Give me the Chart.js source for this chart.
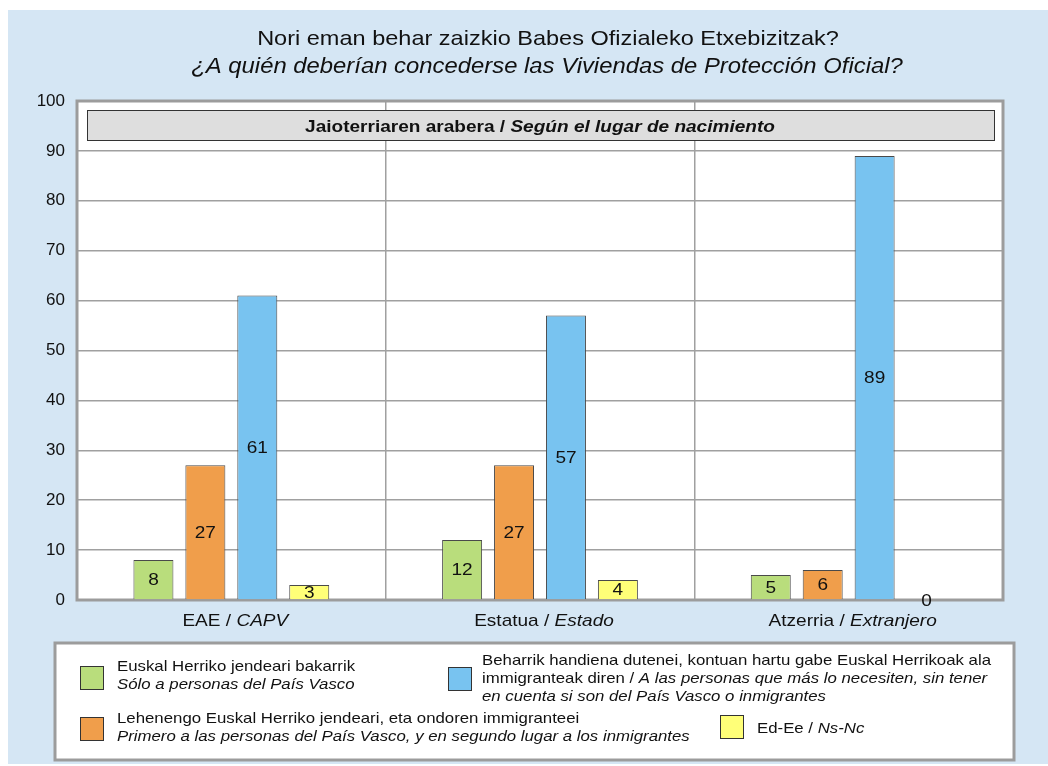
<!DOCTYPE html>
<html>
<head>
<meta charset="utf-8">
<script src="https://cdn.jsdelivr.net/npm/chart.js@4"></script>
<style>
  body { margin: 0; background: #fff; }
  #wrap { position: absolute; left: 8px; top: 10px; width: 1040px; height: 754px; }
</style>
</head>
<body>
<div id="wrap"><canvas id="chart" width="1040" height="754"></canvas></div>
<script>
// Datos
const categoriesEu = ["EAE", "Estatua", "Atzerria"];
const categoriesEs = ["CAPV", "Estado", "Extranjero"];
const onlyBasque = [8, 12, 5];
const basqueFirst = [27, 27, 6];
const mostNeed = [61, 57, 89];
const dontKnow = [3, 4, 0];
const yMin = 0;
const yMax = 100;
const yStep = 10;

const titleEu = "Nori eman behar zaizkio Babes Ofizialeko Etxebizitzak?";
const titleEs = "¿A quién deberían concederse las Viviendas de Protección Oficial?";
const headerEu = "Jaioterriaren arabera / ";
const headerEs = "Según el lugar de nacimiento";

// legend text: each line is a list of [text, italic]
const legendOnlyBasque = [
  [["Euskal Herriko jendeari bakarrik", false]],
  [["Sólo a personas del País Vasco", true]],
];
const legendBasqueFirst = [
  [["Lehenengo Euskal Herriko jendeari, eta ondoren immigranteei", false]],
  [["Primero a las personas del País Vasco, y en segundo lugar a los inmigrantes", true]],
];
const legendMostNeed = [
  [["Beharrik handiena dutenei, kontuan hartu gabe Euskal Herrikoak ala", false]],
  [["immigranteak diren / ", false], ["A las personas que más lo necesiten, sin tener", true]],
  [["en cuenta si son del País Vasco o inmigrantes", true]],
];
const legendDontKnow = [
  [["Ed-Ee / ", false], ["Ns-Nc", true]],
];

const colGreen = "#b9dd7c";
const colOrange = "#f09e4b";
const colBlue = "#78c3f0";
const colYellow = "#ffff78";
const FONT = "'Liberation Sans', Arial, sans-serif";
const STRETCH = 1.12; // el original esta algo ensanchado

// dibuja texto con partes en cursiva
function drawRuns(ctx, runs, x, y, size, align, bold) {
  const w = bold ? "bold " : "";
  let total = 0;
  runs.forEach(([t, it]) => {
    ctx.font = (it ? "italic " : "") + w + size + "px " + FONT;
    total += ctx.measureText(t).width;
  });
  total *= STRETCH;
  let cx = align === "center" ? x - total / 2 : x;
  ctx.save();
  ctx.translate(cx, y);
  ctx.scale(STRETCH, 1);
  ctx.textAlign = "left";
  ctx.textBaseline = "middle";
  let px = 0;
  runs.forEach(([t, it]) => {
    ctx.font = (it ? "italic " : "") + w + size + "px " + FONT;
    ctx.fillText(t, px, 0);
    px += ctx.measureText(t).width;
  });
  ctx.restore();
}

const decor = {
  id: "decor",
  beforeDraw(chart) {
    const { ctx, chartArea: a } = chart;
    ctx.save();
    ctx.fillStyle = "#d5e6f4";
    ctx.fillRect(0, 0, chart.width, chart.height);
    ctx.fillStyle = "#ffffff";
    ctx.fillRect(a.left, a.top, a.right - a.left, a.bottom - a.top);
    ctx.restore();
  },
  beforeDatasetsDraw(chart) {
    const { ctx, chartArea: a } = chart;
    ctx.save();
    // marco
    ctx.strokeStyle = "#9c9c9c";
    ctx.lineWidth = 3;
    ctx.strokeRect(a.left, a.top, a.right - a.left, a.bottom - a.top);
    // caja de cabecera
    const bx = a.left + 10, by = a.top + 9, bw = a.right - a.left - 19, bh = 30;
    ctx.fillStyle = "#dedede";
    ctx.fillRect(bx, by, bw, bh);
    ctx.strokeStyle = "#333";
    ctx.lineWidth = 1;
    ctx.strokeRect(bx + 0.5, by + 0.5, bw, bh);
    ctx.fillStyle = "#111";
    drawRuns(ctx, [[headerEu, false], [headerEs, true]], (a.left + a.right) / 2, by + bh / 2 + 2, 17, "center", true);
    ctx.restore();
  },
  afterDatasetsDraw(chart) {
    const { ctx } = chart;
    ctx.save();
    ctx.fillStyle = "#111";
    chart.data.datasets.forEach((ds, i) => {
      chart.getDatasetMeta(i).data.forEach((bar, j) => {
        const p = bar.getProps(["x", "y", "base"], true);
        drawRuns(ctx, [[String(ds.data[j]), false]], p.x, (p.y + p.base) / 2 + 1, 17, "center");
      });
    });
    ctx.restore();
  },
  afterDraw(chart) {
    const { ctx } = chart;
    const xs = chart.scales.x;
    ctx.save();
    ctx.fillStyle = "#111";
    // titulo
    drawRuns(ctx, [[titleEu, false]], 540, 29, 21, "center");
    drawRuns(ctx, [[titleEs, true]], 539, 57, 21.3, "center");
    // etiquetas de categoria
    categoriesEu.forEach((c, i) => {
      drawRuns(ctx, [[c + " / ", false], [categoriesEs[i], true]], xs.getPixelForValue(i) + 4, 611, 17, "center");
    });
    // leyenda
    ctx.fillStyle = "#ffffff";
    ctx.fillRect(47, 633, 959, 117);
    ctx.strokeStyle = "#9c9c9c";
    ctx.lineWidth = 3;
    ctx.strokeRect(47, 633, 959, 117);
    const items = [
      [colGreen, legendOnlyBasque, 72, 656, 109, 657],
      [colBlue, legendMostNeed, 440, 657, 474, 651],
      [colOrange, legendBasqueFirst, 72, 707, 109, 709],
      [colYellow, legendDontKnow, 712, 705, 749, 719],
    ];
    items.forEach(([col, lines, sx, sy, tx, ty]) => {
      ctx.fillStyle = col;
      ctx.fillRect(sx, sy, 23, 23);
      ctx.strokeStyle = "#333";
      ctx.lineWidth = 1;
      ctx.strokeRect(sx + 0.5, sy + 0.5, 23, 23);
      ctx.fillStyle = "#111";
      lines.forEach((runs, k) => drawRuns(ctx, runs, tx, ty + k * 18, 15, "left"));
    });
    ctx.restore();
  },
};

const barStyle = { borderWidth: 1, borderColor: "#4a4a4a", barPercentage: 0.77, categoryPercentage: 0.673 };

new Chart(document.getElementById("chart"), {
  type: "bar",
  data: {
    labels: categoriesEu,
    datasets: [
      { label: "Euskal Herriko jendeari bakarrik", data: onlyBasque, backgroundColor: colGreen, ...barStyle },
      { label: "Lehenengo Euskal Herriko jendeari", data: basqueFirst, backgroundColor: colOrange, ...barStyle },
      { label: "Beharrik handiena dutenei", data: mostNeed, backgroundColor: colBlue, ...barStyle },
      { label: "Ed-Ee", data: dontKnow, backgroundColor: colYellow, ...barStyle },
    ],
  },
  options: {
    responsive: false,
    animation: false,
    layout: { padding: { top: 91, right: 45, left: 0, bottom: 0 } },
    plugins: { legend: { display: false }, tooltip: { enabled: false } },
    scales: {
      x: {
        ticks: { display: false },
        grid: { color: "#a0a0a0", lineWidth: 1.5, drawTicks: false },
        border: { display: false },
        afterFit: (s) => { s.height = 164; },
      },
      y: {
        min: yMin,
        max: yMax,
        ticks: { stepSize: yStep, padding: 12, color: "#111", font: { family: FONT, size: 17 } },
        grid: { color: "#a0a0a0", lineWidth: 1.5, drawTicks: false },
        border: { display: false },
        afterFit: (s) => { s.width = 69; },
      },
    },
  },
  plugins: [decor],
});
</script>
</body>
</html>
